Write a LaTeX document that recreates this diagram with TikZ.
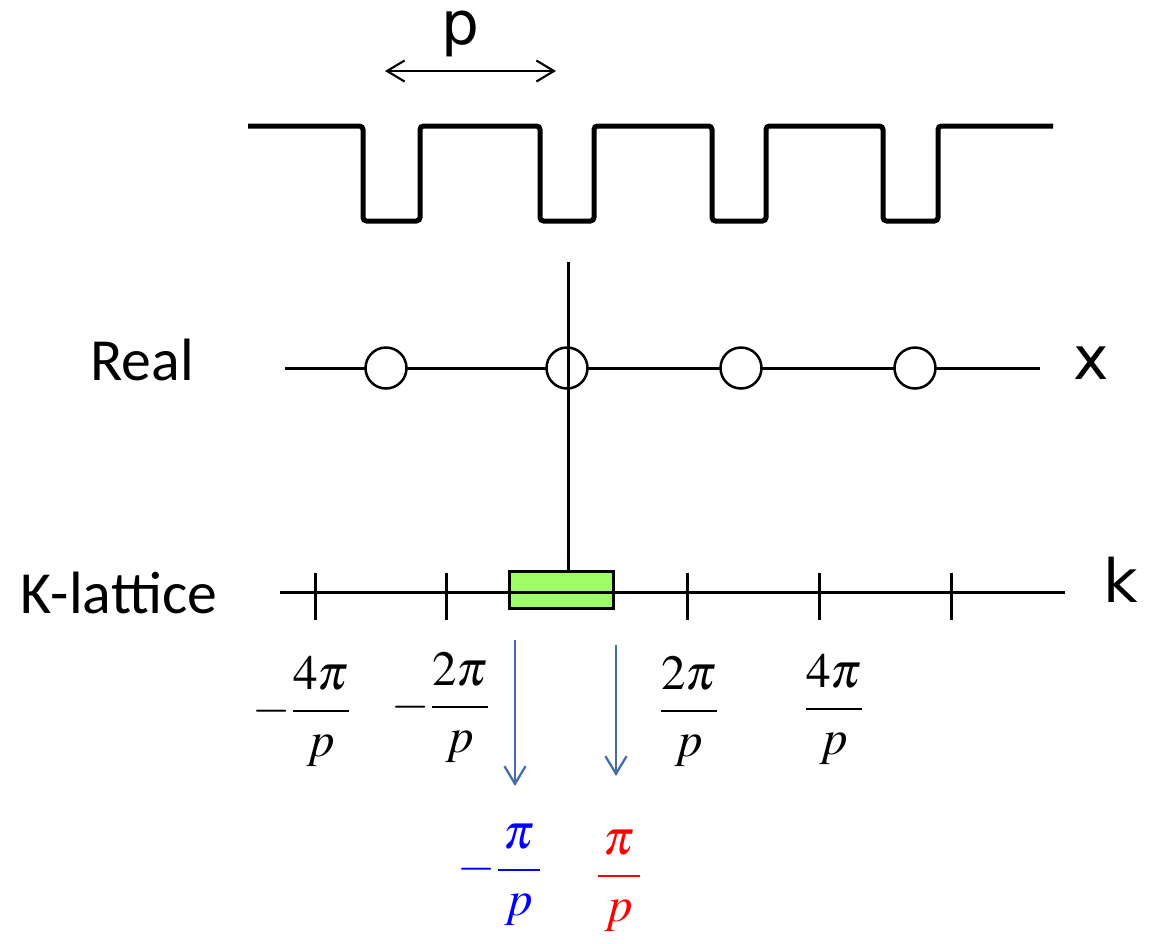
\documentclass[tikz,border=0pt]{standalone}
\usepackage{mathptmx}
\usepackage{fontspec}
\newfontfamily\calfont{Carlito}
\newfontfamily\roundfont{DejaVu Sans}
\usepackage{xcolor}
\usetikzlibrary{arrows.meta}
\definecolor{arrowblue}{RGB}{70,110,170}
\definecolor{boxgreen}{RGB}{158,252,102}
\newcommand{\bigfrac}[2]{\displaystyle\frac{#1}{#2}}
\tikzset{
  axis/.style={line width=0.06cm},
  wave/.style={line width=0.1cm,rounded corners=2pt},
  site/.style={circle,draw,fill=white,line width=0.05cm,minimum size=0.82cm,inner sep=0pt},
  sidelabel/.style={font=\calfont\fontsize{34}{40}\selectfont},
  letter/.style={font=\roundfont\fontsize{34}{40}\selectfont},
  frac/.style={font=\fontsize{28}{34}\selectfont,inner sep=0pt},
  mapto/.style={arrowblue,line width=0.045cm,-{Straight Barb[length=10pt,width=12pt,line width=1.3pt]}}
}
\begin{document}
\begin{tikzpicture}[x=0.02cm,y=-0.02cm]
  \useasboundingbox (0,0) rectangle (1154,944);
  % period
  \coordinate (pl) at (385,71);
  \coordinate (pr) at (556,71);
  \draw[line width=0.04cm,{Straight Barb[length=10pt,width=12pt,line width=1.2pt]}-{Straight Barb[length=10pt,width=12pt,line width=1.2pt]}] (pl) -- (pr);
  \node[letter] (plabel) at (460,34) {p};
  \draw[wave] (248,126)
    \foreach \a/\b in {363/420,540/594,712/766,883/938} { -- (\a,126) -- (\a,221) -- (\b,221) -- (\b,126) }
    -- (1053,126);
  % real lattice
  \coordinate (rl) at (285,368);
  \coordinate (rr) at (1040,368);
  \draw[axis] (rl) -- (rr);
  \foreach \x [count=\i] in {386,567,741,915}
    \node[site] (s\i) at (\x,368) {};
  \node[sidelabel] (real) at (142,360) {Real};
  \node[letter] (xlabel) at (1091,363) {x};
  % k lattice
  \coordinate (kl) at (280,592);
  \coordinate (kr) at (1065,592);
  \node[draw,fill=boxgreen,line width=0.06cm,minimum width=2.08cm,minimum height=0.74cm,inner sep=0pt] (bz) at (561.5,589.5) {};
  \draw[axis] (kl) -- (kr);
  \coordinate (top) at (568,262);
  \draw[axis] (top) -- (bz.north -| top);
  \foreach \x in {315,446,687,819,951}
    \draw[axis] (\x,573) -- (\x,620);
  \node[sidelabel] (klat) at (119,593) {K-lattice};
  \node[letter] (klabel) at (1121,580) {k};
  % reciprocal points
  \node[frac] (m4) at (302,712) {$-\bigfrac{4\pi}{p}$};
  \node[frac] (m2) at (441,708) {$-\bigfrac{2\pi}{p}$};
  \node[frac] (p2) at (689,712) {$\bigfrac{2\pi}{p}$};
  \node[frac] (p4) at (834,710) {$\bigfrac{4\pi}{p}$};
  \node[frac,blue] (mpi) at (500,875) {$-\bigfrac{\,\pi\,}{p}$};
  \node[frac,red] (ppi) at (619,881) {$\bigfrac{\,\pi\,}{p}$};
  \coordinate (a1) at (515,640);
  \coordinate (b1) at (515,786);
  \coordinate (a2) at (616,645);
  \coordinate (b2) at (616,776);
  \draw[mapto] (a1) -- (b1);
  \draw[mapto] (a2) -- (b2);
\end{tikzpicture}
\end{document}
